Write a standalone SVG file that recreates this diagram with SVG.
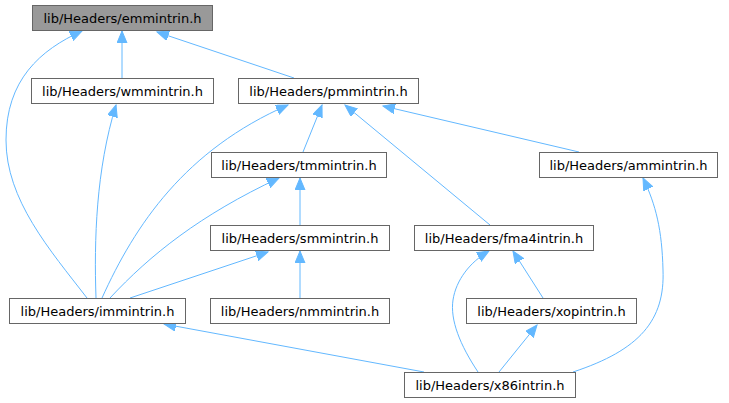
<svg xmlns="http://www.w3.org/2000/svg" width="729" height="403" viewBox="0 0 729 403">
<style>
.n rect{fill:#ffffff;stroke:#666666;stroke-width:1}
.n.h rect{fill:#999999}
.n text{font-family:"DejaVu Sans",sans-serif;font-size:13px;fill:#000000;text-anchor:middle}
.e path{fill:none;stroke:#63b8ff;stroke-width:1;marker-end:url(#a)}
</style>
<defs>
<marker id="a" markerUnits="userSpaceOnUse" markerWidth="14" markerHeight="12" viewBox="0 0 14 12" refX="12" refY="5" orient="auto">
<path d="M0,0 L12,5 L0,10 z" fill="#63b8ff" stroke="#63b8ff" stroke-width="1"/>
</marker>
</defs>
<rect width="729" height="403" fill="#ffffff"/>
<g id="edges" class="e">
<path d="M87,298 C50,250 6,200 6,140 C6,80 40,50 82,31"/>
<path d="M122,78 L122,31"/>
<path d="M294,78 L157,32"/>
<path d="M96,298 C94,240 96,170 116,105"/>
<path d="M102,298 C135,225 185,150 288,105"/>
<path d="M303,152 L322,105"/>
<path d="M490,225 L345,105"/>
<path d="M579,152 L383,106"/>
<path d="M110,298 C150,255 200,215 279,178"/>
<path d="M300,225 L300,178"/>
<path d="M130,298 L268,252"/>
<path d="M300,298 L300,251"/>
<path d="M573,372 C640,350 665,320 663,270 C662,230 656,205 643,178"/>
<path d="M478,372 C460,345 450,320 453,300 C456,280 470,262 489,251"/>
<path d="M543,298 L513,251"/>
<path d="M499,372 L537,325"/>
<path d="M424,372 L164,324"/>
</g>
<g id="emmintrin" class="n h"><rect x="32.5" y="5.5" width="180" height="25"/><text x="122.5" y="22.5">lib/Headers/emmintrin.h</text></g>
<g id="wmmintrin" class="n"><rect x="31.5" y="78.5" width="182" height="25"/><text x="122.5" y="95.5">lib/Headers/wmmintrin.h</text></g>
<g id="pmmintrin" class="n"><rect x="238.5" y="78.5" width="180" height="25"/><text x="328.5" y="95.5">lib/Headers/pmmintrin.h</text></g>
<g id="tmmintrin" class="n"><rect x="211.5" y="152.5" width="175" height="25"/><text x="299" y="169.5">lib/Headers/tmmintrin.h</text></g>
<g id="ammintrin" class="n"><rect x="539.5" y="152.5" width="178" height="25"/><text x="628.5" y="169.5">lib/Headers/ammintrin.h</text></g>
<g id="smmintrin" class="n"><rect x="210.5" y="225.5" width="179" height="25"/><text x="300" y="242.5">lib/Headers/smmintrin.h</text></g>
<g id="fma4intrin" class="n"><rect x="414.5" y="225.5" width="179" height="25"/><text x="504" y="242.5">lib/Headers/fma4intrin.h</text></g>
<g id="immintrin" class="n"><rect x="9.5" y="298.5" width="176" height="25"/><text x="97.5" y="315.5">lib/Headers/immintrin.h</text></g>
<g id="nmmintrin" class="n"><rect x="210.5" y="298.5" width="179" height="25"/><text x="300" y="315.5">lib/Headers/nmmintrin.h</text></g>
<g id="xopintrin" class="n"><rect x="466.5" y="298.5" width="170" height="25"/><text x="551.5" y="315.5">lib/Headers/xopintrin.h</text></g>
<g id="x86intrin" class="n"><rect x="404.5" y="372.5" width="171" height="25"/><text x="490" y="389.5">lib/Headers/x86intrin.h</text></g>
</svg>
